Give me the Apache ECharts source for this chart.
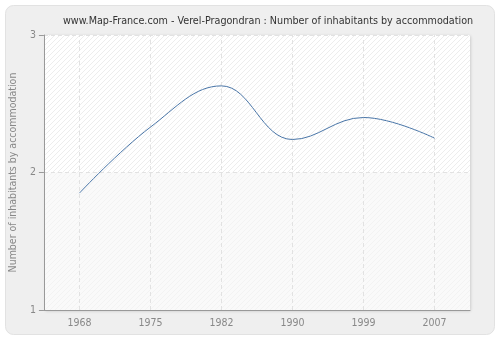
<!DOCTYPE html>
<html>
<head>
<meta charset="utf-8">
<script src="https://cdn.jsdelivr.net/npm/echarts@6/dist/echarts.min.js"></script>
<style>
  html, body { margin: 0; padding: 0; background: #fff; }
  #chart { width: 500px; height: 340px; }
</style>
</head>
<body>
<div id="chart"></div>
<script>
// census years shown on the x axis
const years = ['1968', '1975', '1982', '1990', '1999', '2007']
// inhabitants per accommodation
const perHome = [1.85, 2.33, 2.63, 2.24, 2.40, 2.25]
const yTicks = [1, 2, 3]

const TITLE = 'www.Map-France.com - Verel-Pragondran : Number of inhabitants by accommodation'
const LINE_COLOR = '#4a76a8'
const TEXT_GREY = '#888'
const FONT = 'DejaVu Sans Condensed'
const GRID_DASH = { color: '#e2e2e2', type: [4, 3], width: 1 }

// small canvas tile with one diagonal stroke, used for the hatched bands
const makeHatch = (bg, stroke) => {
  const c = document.createElement('canvas')
  c.width = 5
  c.height = 5
  const ctx = c.getContext('2d')
  ctx.fillStyle = bg
  ctx.fillRect(0, 0, 5, 5)
  ctx.strokeStyle = stroke
  ctx.lineWidth = 1
  ctx.beginPath()
  ctx.moveTo(0, 5)
  ctx.lineTo(5, 0)
  ctx.moveTo(-1, 1)
  ctx.lineTo(1, -1)
  ctx.moveTo(4, 6)
  ctx.lineTo(6, 4)
  ctx.stroke()
  return { image: c, repeat: 'repeat' }
}

const chart = echarts.init(document.getElementById('chart'))

chart.setOption({
  backgroundColor: '#fff',
  animation: false,
  graphic: [{
    type: 'rect',
    z: -10,
    shape: { x: 5.5, y: 5.5, width: 489, height: 329, r: 8 },
    style: { fill: '#efefef', stroke: '#e2e2e2', lineWidth: 1 }
  }],
  title: {
    text: TITLE,
    left: 58,
    top: 11,
    textStyle: { fontFamily: FONT, fontSize: 10.7, fontWeight: 'normal', color: '#333' }
  },
  grid: {
    left: 40,
    right: 30,
    top: 35,
    bottom: 30,
    show: true,
    backgroundColor: '#fff',
    borderWidth: 0,
    shadowColor: 'rgba(0,0,0,0.18)',
    shadowBlur: 3,
    shadowOffsetX: 1,
    shadowOffsetY: 1
  },
  xAxis: {
    type: 'category',
    data: years,
    boundaryGap: true,
    axisLine: { lineStyle: { color: '#999' } },
    axisTick: { alignWithLabel: true, length: 5, lineStyle: { color: '#999' } },
    axisLabel: { color: TEXT_GREY, fontFamily: FONT, fontSize: 10.5, margin: 8 },
    splitLine: { show: false }
  },
  yAxis: {
    type: 'value',
    min: yTicks[0],
    max: yTicks[yTicks.length - 1],
    interval: 1,
    name: 'Number of inhabitants by accommodation',
    nameLocation: 'middle',
    nameGap: 23,
    nameTextStyle: { color: TEXT_GREY, fontFamily: FONT, fontSize: 10.5 },
    axisLine: { show: true, lineStyle: { color: '#999' } },
    axisTick: { show: true, length: 5, lineStyle: { color: '#999' } },
    axisLabel: { color: TEXT_GREY, fontFamily: FONT, fontSize: 10.5, margin: 8 },
    splitLine: { show: true, lineStyle: GRID_DASH },
    splitArea: {
      show: true,
      areaStyle: { color: [makeHatch('#fafafa', '#f3f3f3'), makeHatch('#ffffff', '#ededed')] }
    }
  },
  series: [{
    type: 'line',
    data: perHome,
    smooth: 0.4,
    showSymbol: false,
    lineStyle: { color: LINE_COLOR, width: 1 },
    z: 3,
    // dashed verticals sit on the year ticks, not on the category borders
    markLine: {
      silent: true,
      symbol: 'none',
      label: { show: false },
      lineStyle: GRID_DASH,
      z: 1,
      data: years.map(y => ({ xAxis: y }))
    }
  }]
})
</script>
</body>
</html>
